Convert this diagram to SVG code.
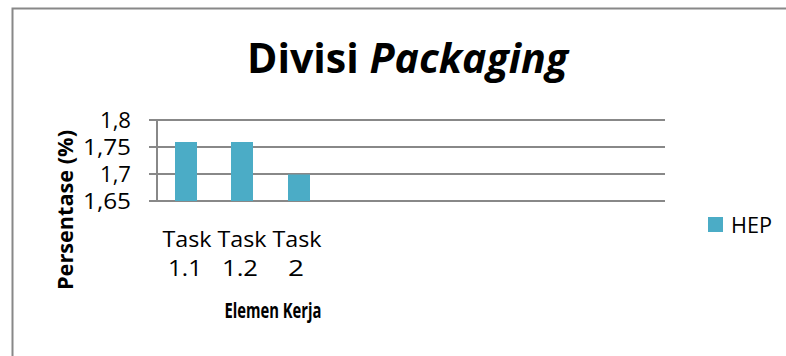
<svg xmlns="http://www.w3.org/2000/svg" width="786" height="356" viewBox="0 0 786 356">
<style>
text{font-family:"Open Sans","Noto Sans","Liberation Sans",sans-serif;fill:#000}
.grid{stroke:#888;stroke-width:2;fill:none}
.bar{fill:#4BACC6}
.tick{font-size:22px;text-anchor:end}
.cat{font-size:22px;text-anchor:middle}
.axt{font-size:22px;font-weight:bold;text-anchor:middle}
</style>
<rect width="786" height="356" fill="#fff"/>
<path d="M12.5,356 V8.5 H786" fill="none" stroke="#888" stroke-width="2"/>
<g id="title">
<text x="247" y="73" font-size="41" font-weight="bold" textLength="321" lengthAdjust="spacingAndGlyphs">Divisi <tspan font-style="italic">Packaging</tspan></text>
</g>
<g id="connectors">
<path class="grid" d="M149,120 H665 M149,147 H665 M149,174 H665 M149,201 H665 M157,120 V201"/>
</g>
<g id="bars">
<rect class="bar" x="175" y="142" width="22" height="59"/>
<rect class="bar" x="231" y="142" width="22" height="59"/>
<rect class="bar" x="288" y="174.5" width="22" height="26.5"/>
</g>
<g id="yaxis">
<text class="tick" x="131" y="128" textLength="31" lengthAdjust="spacingAndGlyphs">1,8</text>
<text class="tick" x="131" y="155" textLength="48" lengthAdjust="spacingAndGlyphs">1,75</text>
<text class="tick" x="131" y="182" textLength="31" lengthAdjust="spacingAndGlyphs">1,7</text>
<text class="tick" x="131" y="209" textLength="48" lengthAdjust="spacingAndGlyphs">1,65</text>
<text class="axt" transform="translate(73,210) rotate(-90)" textLength="160" lengthAdjust="spacingAndGlyphs">Persentase (%)</text>
</g>
<g id="xaxis">
<text class="cat" x="187" y="247" textLength="49" lengthAdjust="spacingAndGlyphs">Task</text>
<text class="cat" x="242" y="247" textLength="49" lengthAdjust="spacingAndGlyphs">Task</text>
<text class="cat" x="297" y="247" textLength="49" lengthAdjust="spacingAndGlyphs">Task</text>
<text class="cat" x="185" y="276" textLength="34" lengthAdjust="spacingAndGlyphs">1.1</text>
<text class="cat" x="240" y="276" textLength="36" lengthAdjust="spacingAndGlyphs">1.2</text>
<text class="cat" x="296" y="276" textLength="16" lengthAdjust="spacingAndGlyphs">2</text>
<text class="axt" x="273" y="318" textLength="97" lengthAdjust="spacingAndGlyphs">Elemen Kerja</text>
</g>
<g id="legend">
<rect class="bar" x="708" y="217" width="15" height="15"/>
<text x="731" y="233" font-size="22" textLength="41" lengthAdjust="spacingAndGlyphs">HEP</text>
</g>
</svg>
